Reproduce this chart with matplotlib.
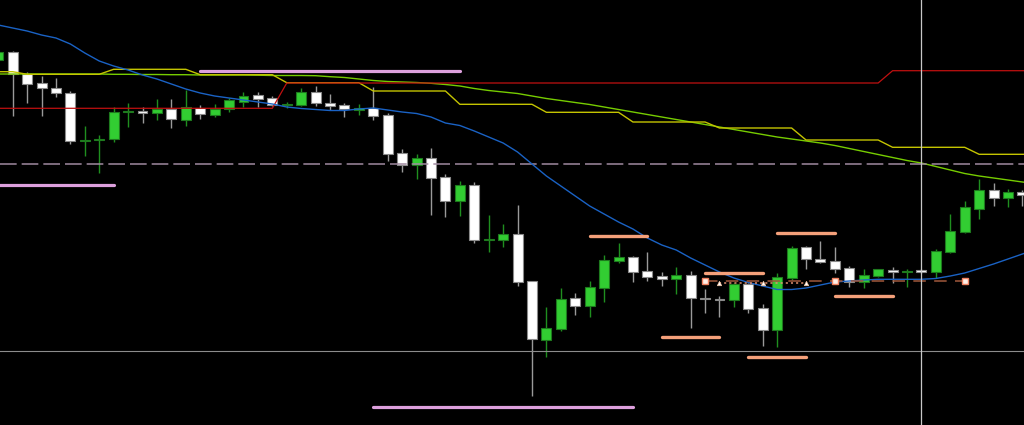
import matplotlib
matplotlib.use('Agg')
import matplotlib.pyplot as plt

plt.rcParams['lines.scale_dashes'] = False

# ---- candle data (chart units: screen level, axis inverted) ----
idx = list(range(-1, 71))
opens = [60, 52.3, 74.3, 83, 87.7, 93, 140.8, 139.6, 138.7, 111.6,
         110.7, 113.3, 109.3, 120, 107.7, 114.7, 109.3, 101.7, 95, 98.3,
         104.6, 104.7, 92.3, 103, 104.7, 109.5, 108, 115.3, 153.3, 165,
         158, 176.7, 201, 185, 239.6, 239.7, 233.7, 281.3, 340, 329.3,
         298.3, 305.7, 287.7, 260.7, 257, 270.7, 276.3, 278.7, 275.3, 297.8,
         298.8, 300.3, 284, 307.7, 330, 277.7, 247.3, 259.3, 261, 267.7,
         281.7, 276, 269.7, 271.5, 270, 272, 252.3, 232.3, 208.7, 190.3,
         198.3, 192]
highs = [50, 51, 72.3, 75.7, 77.7, 90.7, 126, 135, 107.3, 103,
         106.5, 99, 99, 90, 105, 104.3, 98.3, 92.3, 92.3, 96,
         102, 88.3, 86, 94.3, 102.7, 104.3, 87.3, 113.3, 149.3, 154,
         148.3, 174.3, 181.3, 182.3, 215, 224.3, 204.7, 281, 306.7, 288.3,
         292.7, 280.7, 255, 243.3, 256, 251.7, 271.7, 266.7, 271.3, 289.3,
         296, 283.3, 283.3, 304, 273.3, 246, 246, 241, 247.3, 266,
         269.3, 268.7, 267, 269, 269, 249.3, 213.7, 201, 179.3, 183.3,
         189.3, 190]
lows = [62, 115.7, 103.3, 115.7, 97.3, 144.3, 156, 172.7, 142, 127,
        123.3, 120, 128.3, 125.7, 119.3, 117.3, 112.3, 107.3, 106.7, 106,
        108, 105.7, 106, 110, 116.7, 114.7, 120, 160.7, 172.3, 179.3,
        214.7, 216.7, 215.7, 242.7, 251.7, 247.3, 285.7, 396, 356.7, 331,
        315, 317.3, 301.7, 262.7, 282.3, 280.7, 285.7, 294, 328.3, 312.7,
        317.3, 307.3, 312.7, 345.7, 347.3, 280, 269.3, 263.3, 273.3, 286.7,
        288.3, 277, 282.7, 287.3, 272.5, 278.3, 253.3, 233.3, 219, 205.7,
        206.7, 206]
closes = [52, 74, 84.3, 88, 93.3, 141.3, 140.2, 139, 112, 111,
          113.3, 109, 119.3, 107.3, 114.3, 109.3, 100, 95.7, 99.3, 105,
          104, 92.3, 103.3, 105.7, 109, 108.3, 116.3, 154, 165, 158.3,
          177.7, 201, 185, 240, 239, 233.7, 282.3, 339, 328.3, 298.7,
          305.7, 287, 260, 257.3, 271.7, 276.7, 278.7, 275.3, 298.3, 298.8,
          299.8, 284, 308.7, 330, 277, 248.3, 259.3, 261.7, 268.7, 282.3,
          275, 269.3, 272, 270.8, 272, 250.7, 231, 207.3, 190.3, 198.3,
          192, 195.3]

# ---- indicator lines (one value per bar, bars -1 .. 71) ----
line_idx = list(range(-1, 72))
blue_ma = [25, 28, 31, 35, 38, 44, 53, 61, 66, 70,
           75, 79, 84, 89, 93, 96, 98, 100, 102, 104,
           107, 108.5, 109.5, 110.5, 110.5, 109, 108, 110, 112, 113.5,
           117, 123, 125.5, 131, 137, 143, 152, 164, 176, 186,
           196, 206, 214, 222, 229, 238, 245, 250, 258, 265,
           272, 278, 282.5, 286, 289.5, 289.5, 288, 285, 282, 281,
           280, 279.3, 279.3, 279.3, 279.3, 278.5, 276, 273, 268.5, 264,
           259, 254, 249]
red_line = [108.3] * 20 + [83] * 42 + [70.7] * 11
yellow_line = ([71.7] * 2 + [74.3] * 6 + [69.3] * 6 + [74.7] * 6 + [82.7] * 6
               + [91] * 6 + [104.3] * 6 + [112.3] * 6 + [122] * 6 + [128] * 6
               + [140] * 6 + [147.3] * 6 + [154.3] * 5)
green_line = [74, 74, 74, 74, 74, 74, 74, 74, 74.3, 74.3,
              74.5, 74.5, 74.7, 74.7, 75, 75, 75, 75, 75.2, 75.5,
              75.5, 75.5, 75.7, 76.7, 77.5, 79, 80.5, 81.5, 82, 82.5,
              83.3, 84.5, 86, 88.5, 90.5, 92, 93.5, 96, 98.5, 100.5,
              102.5, 104.5, 107, 109.5, 112, 114.5, 117, 119.5, 122, 124.5,
              127, 129.5, 132, 134.5, 137, 139, 141, 143, 145.5, 148.5,
              151.5, 154.5, 157.5, 160.5, 163, 166.5, 170, 173.5, 176, 178,
              180, 182, 184]

# ---- horizontal levels / segments ----
dashed_level = 163.7
gray_level = 351
cursor_bar = 63
pink_levels = [70.7, 185.3, 407]
pink_start = [13, -1.2, 25]
pink_end = [31, 7, 43]
salmon_levels = [235.7, 337, 272.7, 356.7, 233.3, 296.3]
salmon_start = [40, 45, 48, 51, 53, 57]
salmon_end = [44, 49, 52, 55, 57, 61]
zone_level = 281
zone_start, zone_end = 48, 66
square_bars = [48, 57, 66]
dot_level = 283.3
tri_bars = [49, 52, 55]

fig = plt.figure(figsize=(10.24, 4.25), dpi=100, facecolor='black')
ax = fig.add_axes([0, 0, 1, 1])
ax.set_facecolor('black')
ax.set_xlim(-0.880, 70.11)
ax.set_ylim(425, 0)
ax.axis('off')

# candles
body_w = 0.69
for i, o, h, l, c in zip(idx, opens, highs, lows, closes):
    bull = c <= o
    if bull:
        wick_c, face, edge = '#1f8f1f', '#32cd32', '#1e7a1e'
    else:
        wick_c, face, edge = '#9a9a9a', '#ffffff', '#8a8a8a'
    ax.vlines(i, h, l, color=wick_c, lw=1.0, zorder=2)
    top = min(o, c)
    hgt = max(abs(c - o), 1.2)
    ax.bar(i, hgt, bottom=top, width=body_w, color=face, edgecolor=edge,
           linewidth=0.8, zorder=3)

# indicator lines
ax.plot(line_idx, green_line, color='#76cc00', lw=1.0, zorder=4)
ax.plot(line_idx, yellow_line, color='#c4c400', lw=1.0, zorder=4)
ax.plot(line_idx, red_line, color='#c01010', lw=0.9, zorder=4)
ax.plot(line_idx, blue_ma, color='#1a62c4', lw=1.0, zorder=5)

# reference lines
ax.axhline(dashed_level, color='#a08aa0', lw=1.1, dashes=(12, 3.6), zorder=4)
ax.axhline(gray_level, color='#8c8c8c', lw=0.8, zorder=4)
ax.axvline(cursor_bar, color='#c8c8c8', lw=0.9, zorder=6)

# pink segments
for lv, s, e in zip(pink_levels, pink_start, pink_end):
    ax.plot([s, e], [lv, lv], color='#dda0dd', lw=2.3, solid_capstyle='round', zorder=5)

# salmon segments
for lv, s, e in zip(salmon_levels, salmon_start, salmon_end):
    ax.plot([s, e], [lv, lv], color='#f4a07a', lw=2.4, solid_capstyle='round', zorder=5)

# zone line with markers
ax.plot([zone_start, zone_end], [zone_level, zone_level], color='#a0583c', lw=1.1,
        dashes=(9, 6), zorder=5)
ax.plot([tri_bars[0], tri_bars[-1]], [dot_level, dot_level], color='#e09070', lw=1.1,
        dashes=(1.5, 2.2), zorder=5)
ax.plot(square_bars, [zone_level] * len(square_bars), 's', ms=4.2,
        mfc='#fff0e8', mec='#f08060', mew=1.0, zorder=7)
ax.plot(tri_bars, [dot_level] * len(tri_bars), '^', ms=3.2,
        mfc='white', mec='#f0c0a0', mew=0.5, zorder=7)

fig.savefig('out.png', dpi=100, facecolor='black')
